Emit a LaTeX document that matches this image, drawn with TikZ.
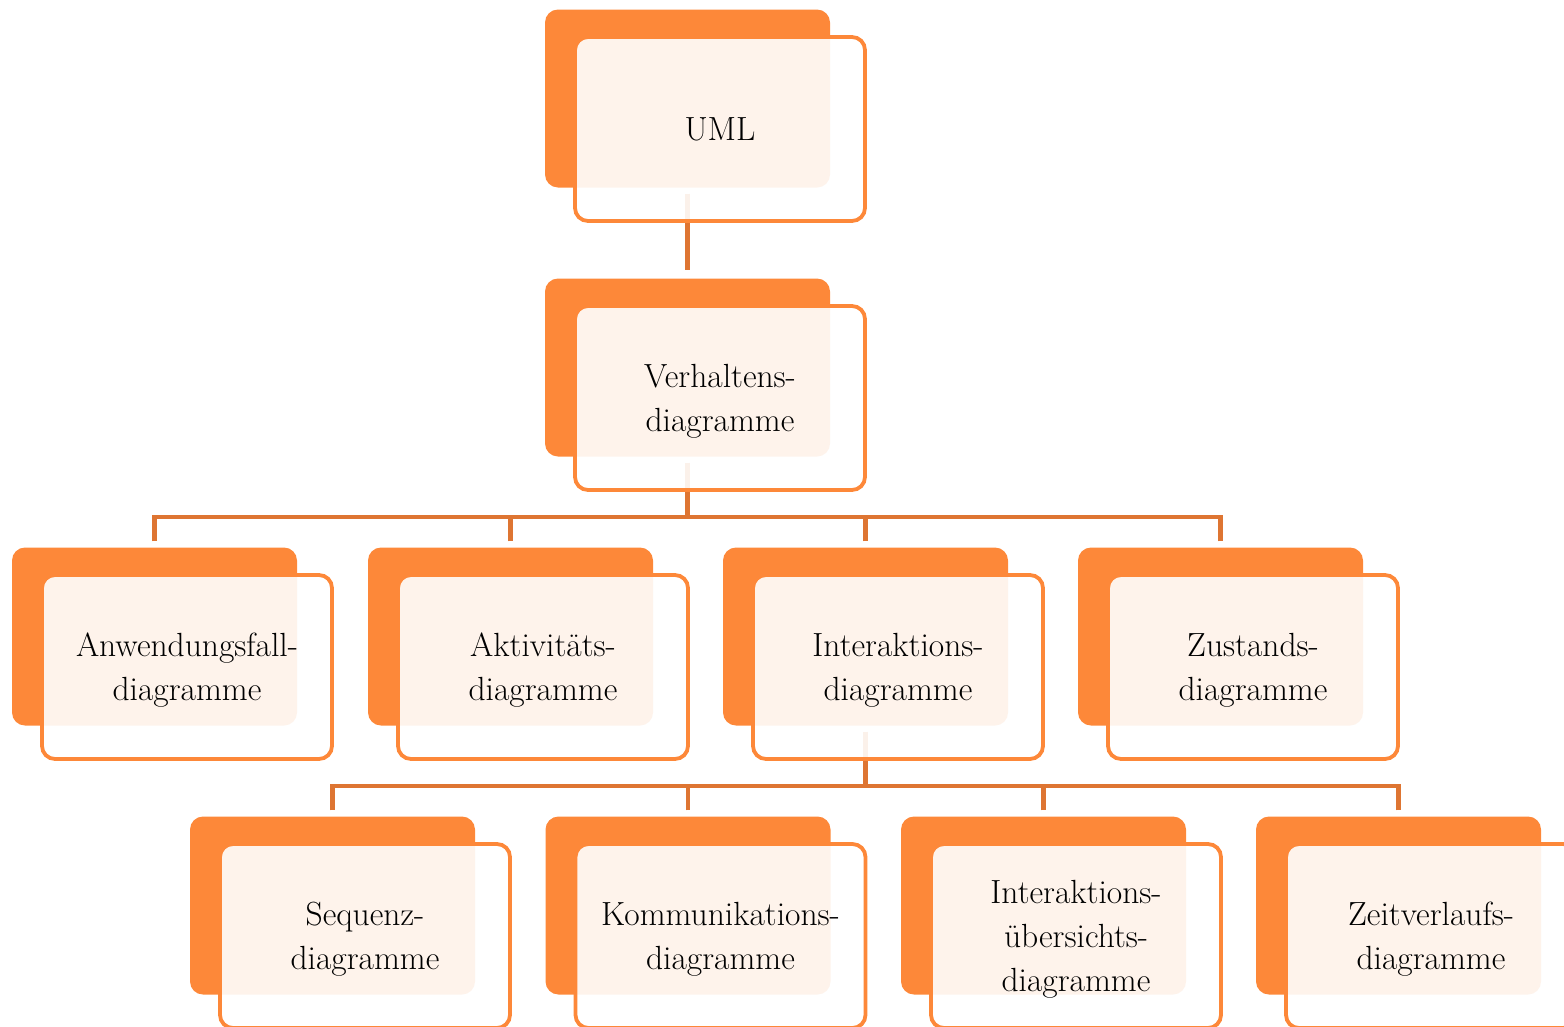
\documentclass[tikz,border=0pt]{standalone}
\usepackage{fontspec}
\usetikzlibrary{calc}
\definecolor{boxorange}{HTML}{FD8839}
\definecolor{lineorange}{HTML}{DE7532}
\tikzset{
  backbox/.style={rectangle, rounded corners=13pt, fill=boxorange, draw=none,
    minimum width=285pt, minimum height=178pt, inner sep=0pt},
  frontbox/.style={rectangle, rounded corners=13pt, draw=boxorange, line width=3.8pt,
    fill=white, fill opacity=0.9, text opacity=1, draw opacity=1,
    minimum width=290pt, minimum height=184pt, inner sep=0pt, align=center,
    text depth=0pt, font=\fontsize{33.5}{44}\selectfont},
  conn/.style={draw=lineorange, line width=4.2pt}
}
\begin{document}
\begin{tikzpicture}[x=1pt,y=-1pt]
\useasboundingbox (0,0) rectangle (1564,1026);
\clip (0,0) rectangle (1564,1026);
% back boxes
\node[backbox] (uml-b) at (687.5,98.5) {};
\node[backbox] (ver-b) at (687.5,367.5) {};
\node[backbox] (anw-b) at (154.5,636.5) {};
\node[backbox] (akt-b) at (510.5,636.5) {};
\node[backbox] (int-b) at (865.5,636.5) {};
\node[backbox] (zus-b) at (1220.5,636.5) {};
\node[backbox] (seq-b) at (332.5,905.5) {};
\node[backbox] (kom-b) at (688,905.5) {};
\node[backbox] (ius-b) at (1043.5,905.5) {};
\node[backbox] (zei-b) at (1398.5,905.5) {};
% connectors
\coordinate (j1) at (687.5,517);
\coordinate (j2) at (865.5,786);
\draw[conn] ([yshift=-6pt]uml-b.south) -- ([yshift=8pt]ver-b.north);
\draw[conn] ([yshift=-6pt]ver-b.south) -- (j1);
\foreach \c in {anw,akt,int,zus}{
  \draw[conn] ([yshift=6pt]\c-b.north) |- (j1);
}
\draw[conn] ([yshift=-6pt]int-b.south) -- (j2);
\foreach \c in {seq,kom,ius,zei}{
  \draw[conn] ([yshift=6pt]\c-b.north) |- (j2);
}
% front boxes
\node[frontbox] (uml) at ($(uml-b)+(32.5,30.5)$) {UML};
\node[frontbox] (ver) at ($(ver-b)+(32.5,30.5)$) {Verhaltens-\\diagramme};
\node[frontbox] (anw) at ($(anw-b)+(32.5,30.5)$) {Anwendungsfall-\\diagramme};
\node[frontbox] (akt) at ($(akt-b)+(32.5,30.5)$) {Aktivitäts-\\diagramme};
\node[frontbox] (int) at ($(int-b)+(32.5,30.5)$) {Interaktions-\\diagramme};
\node[frontbox] (zus) at ($(zus-b)+(32.5,30.5)$) {Zustands-\\diagramme};
\node[frontbox] (seq) at ($(seq-b)+(32.5,30.5)$) {Sequenz-\\diagramme};
\node[frontbox] (kom) at ($(kom-b)+(32.5,30.5)$) {Kommunikations-\\diagramme};
\node[frontbox] (ius) at ($(ius-b)+(32.5,30.5)$) {Interaktions-\\übersichts-\\diagramme};
\node[frontbox] (zei) at ($(zei-b)+(32.5,30.5)$) {Zeitverlaufs-\\diagramme};
\end{tikzpicture}
\end{document}
